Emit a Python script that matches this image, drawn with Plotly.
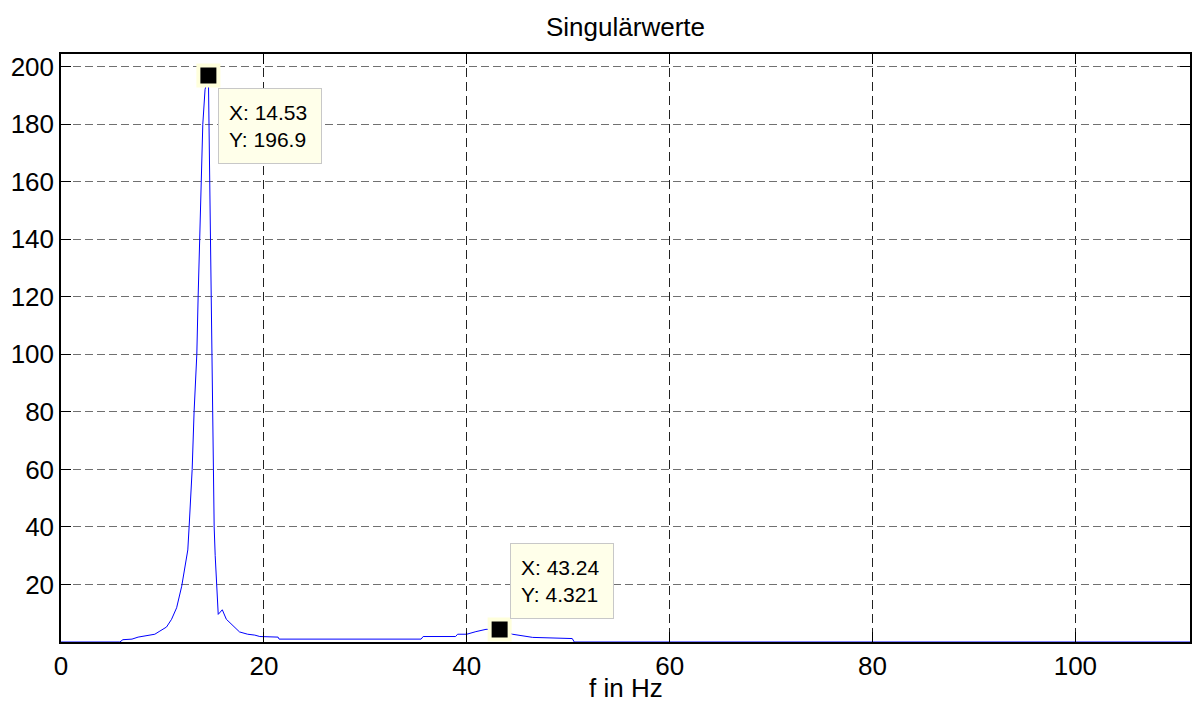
import plotly.graph_objects as go

# Frequency (Hz) and singular values
freq = [0, 5.8, 6.1, 7.0, 7.6, 8.6, 9.25, 9.75, 10.4, 10.9, 11.4, 11.9, 12.2, 12.5,
        12.63, 12.93, 13.12, 13.39, 13.52, 13.65, 13.81, 13.98, 14.2, 14.53,
        15.1, 15.2, 15.5, 15.9,
        16.3, 17.0, 17.6, 18.4, 19.1, 19.6, 21.4, 21.5, 35.5, 35.7, 38.9, 39.1, 40.0,
        40.9, 41.9, 43.24, 44.5, 46.5, 50.4, 50.6, 112]
sing = [0, 0, 0.8, 1.0, 1.7, 2.4, 2.7, 3.8, 5.2, 7.9, 11.9, 19.4, 25.2, 32,
        40, 60, 80, 100, 120, 140, 160, 180, 192, 196.9,
        40, 30, 9.6, 11.2,
        7.9, 5.5, 3.5, 2.7, 2.4, 1.9, 1.7, 1.0, 1.0, 1.9, 1.9, 2.7, 2.7,
        3.6, 4.4, 4.321, 2.7, 1.6, 1.2, 0, 0]

tip_x = [14.53, 43.24]
tip_y = [196.9, 4.321]
tip_text = ["X: 14.53<br>Y: 196.9", "X: 43.24<br>Y: 4.321"]
tip_yanchor = ["top", "bottom"]
tip_yshift = [-12, 11]

x_ticks = [0, 20, 40, 60, 80, 100]
y_ticks = [20, 40, 60, 80, 100, 120, 140, 160, 180, 200]

FONT = "Liberation Sans, Arial, Helvetica, sans-serif"

fig = go.Figure()
fig.add_trace(go.Scatter(x=freq, y=sing, mode="lines",
                         line=dict(color="#0000FF", width=1), hoverinfo="skip",
                         showlegend=False))
fig.add_trace(go.Scatter(x=tip_x, y=tip_y, mode="markers",
                         marker=dict(symbol="square", size=20, color="black",
                                     line=dict(color="#FFFFDC", width=4)),
                         hoverinfo="skip", showlegend=False))

for tx, ty, tt, ya, ys in zip(tip_x, tip_y, tip_text, tip_yanchor, tip_yshift):
    fig.add_annotation(x=tx, y=ty, xref="x", yref="y", text=tt, showarrow=False,
                       xanchor="left", yanchor=ya, xshift=10, yshift=ys,
                       align="left", bgcolor="#FFFFEA", bordercolor="#C8C8C8",
                       borderwidth=1, borderpad=10, width=82, height=54,
                       font=dict(family=FONT, size=21, color="black"))

# x-axis title placed as text below the tick labels
fig.add_annotation(text="f in Hz", x=0.5, xref="paper", y=-46 / 588, yref="paper",
                   xanchor="center", yanchor="middle", showarrow=False,
                   font=dict(family=FONT, size=26, color="black"))

fig.update_layout(
    width=1192, height=711,
    margin=dict(l=61, r=0, t=54, b=69),
    paper_bgcolor="white", plot_bgcolor="white",
    font=dict(family=FONT, size=26, color="black"),
    title=dict(text="Singulärwerte", x=0.5, xref="paper", xanchor="center",
               y=1 - 27 / 711, yref="container", yanchor="middle",
               font=dict(family=FONT, size=26, color="black")),
    xaxis=dict(range=[0, 111.3], tickvals=x_ticks, ticks="inside", ticklen=10,
               tickcolor="black", showline=True, linecolor="black", linewidth=1.5,
               mirror="ticks", showgrid=True, gridcolor="#222222", griddash="9px,5px",
               gridwidth=1, zeroline=False, tickfont=dict(size=26)),
    yaxis=dict(range=[0, 204.4], tickvals=y_ticks, ticks="inside", ticklen=10,
               tickcolor="black", showline=True, linecolor="black", linewidth=1.5,
               mirror="ticks", showgrid=True, gridcolor="#707070", griddash="8px,4px",
               gridwidth=1, zeroline=False, tickfont=dict(size=26)),
)

fig.write_html("out.html")
